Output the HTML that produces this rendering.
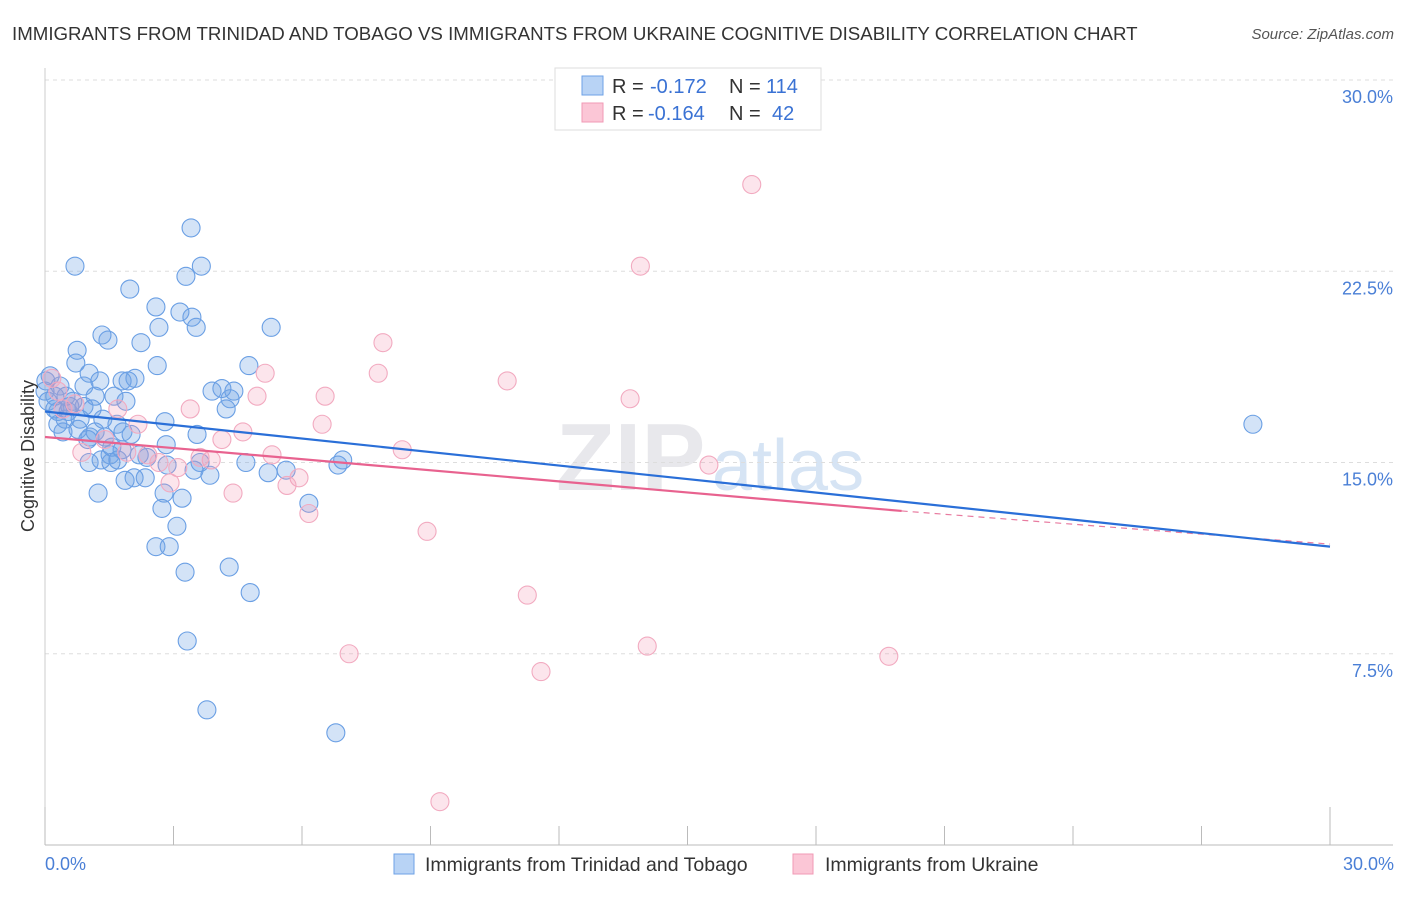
<!DOCTYPE html>
<html><head><meta charset="utf-8"><style>
body{margin:0;background:#fff;font-family:"Liberation Sans",sans-serif;}
svg text{font-family:"Liberation Sans",sans-serif;}
</style></head><body>
<svg id="chart" width="1406" height="892" xmlns="http://www.w3.org/2000/svg">
<text x="12" y="40" font-size="18.7" fill="#333">IMMIGRANTS FROM TRINIDAD AND TOBAGO VS IMMIGRANTS FROM UKRAINE COGNITIVE DISABILITY CORRELATION CHART</text>
<text x="1394" y="39" font-size="15" fill="#555" font-style="italic" text-anchor="end">Source: ZipAtlas.com</text>
<text x="556" y="490" font-size="96" fill="#e8e8ec" font-family="Liberation Serif" font-weight="bold">ZIP</text>
<text x="712" y="490" font-size="72" fill="#d6e4f4">atlas</text>
<g id="grid"></g>
<g id="axes"></g>
<g id="pts"></g>
<g id="trend"></g>
<text transform="translate(34,456) rotate(-90)" font-size="18" fill="#333" text-anchor="middle">Cognitive Disability</text>
<text x="45" y="870" font-size="18" fill="#4a7fd6">0.0%</text>
<text x="1394" y="870" font-size="18" fill="#4a7fd6" text-anchor="end">30.0%</text>
<g>
<rect x="555" y="68" width="266" height="62" fill="#fff" stroke="#ddd"/>
<rect x="582" y="76" width="21" height="19" fill="#b8d3f5" stroke="#6ea2e6"/>
<rect x="582" y="103" width="21" height="19" fill="#fbc6d6" stroke="#f09ab5"/>
<text x="612" y="93" font-size="20" fill="#333">R =</text>
<text x="650" y="93" font-size="20" fill="#3a72d4">-0.172</text>
<text x="729" y="93" font-size="20" fill="#333">N =</text>
<text x="766" y="93" font-size="20" fill="#3a72d4">114</text>
<text x="612" y="120" font-size="20" fill="#333">R =</text>
<text x="648" y="120" font-size="20" fill="#3a72d4">-0.164</text>
<text x="729" y="120" font-size="20" fill="#333">N =</text>
<text x="772" y="120" font-size="20" fill="#3a72d4">42</text>
</g>
<g>
<rect x="394" y="854" width="20" height="20" fill="#b8d3f5" stroke="#6ea2e6"/>
<text x="425" y="871" font-size="19.5" fill="#333">Immigrants from Trinidad and Tobago</text>
<rect x="793" y="854" width="20" height="20" fill="#fbc6d6" stroke="#f09ab5"/>
<text x="825" y="871" font-size="19.5" fill="#333">Immigrants from Ukraine</text>
</g>
</svg>
<script>
const yTicks=[30,22.5,15,7.5];
const yTickLabels=["30.0%","22.5%","15.0%","7.5%"];
const xTicks=[0,3,6,9,12,15,18,21,24,27,30];
const blueX=[0.70,3.41,3.65,3.29,1.98,2.59,3.15,3.43,3.53,2.66,5.28,1.33,1.47,2.24,0.75,2.62,4.76,0.72,1.03,1.28,1.80,2.10,1.94,0.12,0.02,0.35,0.91,3.90,4.13,4.41,4.32,0.23,0.49,1.17,1.61,1.89,0.65,0.91,1.10,4.23,2.80,0.30,0.54,0.82,0.47,1.35,1.68,0.30,0.42,1.05,1.17,1.82,2.01,1.00,3.55,1.56,1.80,1.52,1.70,1.31,1.03,2.38,2.83,2.85,3.62,3.48,1.54,4.69,5.63,5.21,3.85,6.95,6.84,1.87,2.08,2.34,1.24,2.78,3.20,6.16,2.73,3.08,2.59,2.90,3.27,4.30,4.79,3.32,3.78,6.79,28.2,0.0,0.07,0.23,0.58,0.77,1.4,2.2];
const blueY=[22.7,24.2,22.7,22.3,21.8,21.1,20.9,20.7,20.3,20.3,20.3,20.0,19.8,19.7,19.4,18.8,18.8,18.9,18.5,18.2,18.2,18.3,18.2,18.4,18.2,18.0,18.0,17.8,17.9,17.8,17.5,17.6,17.6,17.6,17.6,17.4,17.4,17.2,17.1,17.1,16.6,17.0,17.0,16.7,16.7,16.7,16.5,16.5,16.2,16.0,16.2,16.2,16.1,15.9,16.1,15.6,15.5,15.3,15.1,15.1,15.0,15.2,15.7,14.9,15.0,14.7,15.0,15.0,14.7,14.6,14.5,15.1,14.9,14.3,14.4,14.4,13.8,13.8,13.6,13.4,13.2,12.5,11.7,11.7,10.7,10.9,9.9,8.0,5.3,4.4,16.5,17.8,17.4,17.1,17.2,16.3,16.0,15.3];
const pinkX=[16.5,13.9,7.89,7.78,10.79,5.14,6.54,4.95,13.66,3.39,1.70,0.30,0.42,6.47,2.17,4.62,4.13,1.40,8.34,1.91,0.86,5.30,3.88,2.40,2.66,3.10,3.62,15.5,2.92,5.93,5.65,4.39,6.16,8.92,11.26,14.06,7.10,19.7,11.58,9.22,0.16,0.7];
const pinkY=[25.9,22.7,19.7,18.5,18.2,18.5,17.6,17.6,17.5,17.1,17.1,17.8,17.1,16.5,16.5,16.2,15.9,15.9,15.5,15.4,15.4,15.3,15.1,15.3,15.0,14.8,15.2,14.9,14.2,14.4,14.1,13.8,13.0,12.3,9.8,7.8,7.5,7.4,6.8,1.7,18.3,17.3];
const blueTrend=[17.0,11.7];
const pinkTrend=[16.0,13.1,20.0,11.8];

const NS="http://www.w3.org/2000/svg";
const X=v=>45+v/30*1285;
const Y=v=>845-v*25.5;
function mk(tag,attrs,parent){const e=document.createElementNS(NS,tag);for(const k in attrs)e.setAttribute(k,attrs[k]);parent.appendChild(e);return e;}
const grid=document.getElementById('grid'),axes=document.getElementById('axes'),pts=document.getElementById('pts'),trend=document.getElementById('trend');
yTicks.forEach((t,i)=>{
 const l=mk('line',{x1:45,x2:1393,y1:Y(t),y2:Y(t),stroke:'#ddd','stroke-dasharray':'4,4'},grid);
 
 
 const tx=mk('text',{x:1393,y:Y(t)+23,'font-size':18,fill:'#4a7fd6','text-anchor':'end'},grid);
 tx.textContent=yTickLabels[i];
 
 
});
const ax=mk('line',{x1:45,x2:1393,y1:845,y2:845,stroke:'#bbb'},axes);


const ay=mk('line',{x1:45,x2:45,y1:68,y2:845,stroke:'#ccc'},axes);


xTicks.forEach((t,i)=>{
 const tk=mk('line',{x1:X(t),x2:X(t),y1:(i==0||i==xTicks.length-1)?807:826,y2:845,stroke:'#bbb'},axes);
 
 
});
function dots(xs,ys,fill,stroke,name){
 xs.forEach((v,i)=>{
  const c=mk('circle',{cx:X(v),cy:Y(ys[i]),r:9,fill:fill,stroke:stroke,'stroke-width':1.1},pts);
  
  
 });
}
dots(blueX,blueY,'rgba(110,162,230,0.3)','#6a9fe4','trinidad-point');
dots(pinkX,pinkY,'rgba(245,150,180,0.25)','#f2aac0','ukraine-point');
const pd=mk('line',{x1:X(pinkTrend[2]),y1:Y(pinkTrend[1]),x2:X(30),y2:Y(pinkTrend[3]),stroke:'#e87ba0','stroke-width':1.2,'stroke-dasharray':'6,5'},trend);


const bl=mk('line',{x1:X(0),y1:Y(blueTrend[0]),x2:X(30),y2:Y(blueTrend[1]),stroke:'#2a6fd8','stroke-width':2.2},trend);


const pl=mk('line',{x1:X(0),y1:Y(pinkTrend[0]),x2:X(pinkTrend[2]),y2:Y(pinkTrend[1]),stroke:'#e8628f','stroke-width':2.2},trend);


</script>
</body></html>
